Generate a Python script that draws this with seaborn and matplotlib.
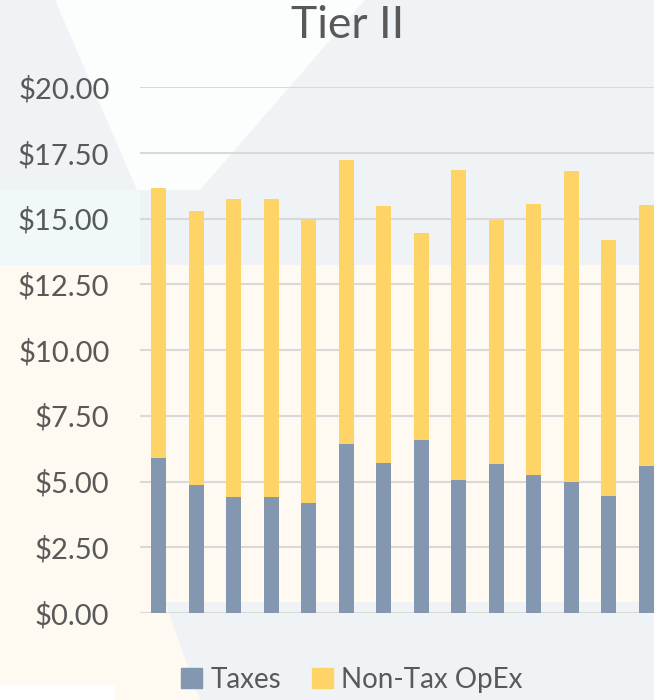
import matplotlib
matplotlib.use("Agg")
import matplotlib.pyplot as plt
from matplotlib.patches import Polygon
from matplotlib.ticker import FuncFormatter
import seaborn as sns
import pandas as pd

# data (one bar per property, no x labels)
properties = [str(i) for i in range(1, 15)]
taxes = [5.88, 4.87, 4.40, 4.41, 4.17, 6.44, 5.72, 6.57, 5.06, 5.68, 5.24, 4.97, 4.45, 5.60]
non_tax = [10.27, 10.42, 11.34, 11.33, 10.80, 10.78, 9.76, 7.89, 11.77, 9.26, 10.32, 11.84, 9.72, 9.91]
y_ticks = [0, 2.5, 5, 7.5, 10, 12.5, 15, 17.5, 20]

TAX_COLOR = "#8497b0"
OPEX_COLOR = "#ffd466"
TEXT_COLOR = "#595959"

df = pd.DataFrame({"property": properties, "Taxes": taxes, "Non-Tax OpEx": non_tax})
df["total"] = df["Taxes"] + df["Non-Tax OpEx"]

sns.set_theme(style="white")
plt.rcParams["font.family"] = ["Lato", "DejaVu Sans"]

W, H = 654, 700
fig = plt.figure(figsize=(W / 100, H / 100), dpi=100)
fig.patch.set_facecolor("#eff3f6")


def px(points):
    # pixel coords (from top-left) -> figure fraction
    return [(x / W, 1 - y / H) for x, y in points]


# decorative background shapes
bg = [
    ([(55, 0), (365, 0), (200, 190), (137, 190)], "#fcfdfd"),
    ([(0, 190), (140, 190), (140, 265), (0, 265)], "#f1f8fa"),
    ([(0, 265), (W, 265), (W, 602), (0, 602)], "#fef9f1"),
    ([(0, 602), (165, 602), (200, H), (0, H)], "#fef9f1"),
    ([(0, 685), (115, 685), (115, H), (0, H)], "#ffffff"),
]
for pts, c in bg:
    fig.add_artist(Polygon(px(pts), closed=True, transform=fig.transFigure,
                           facecolor=c, edgecolor="none", zorder=-5))

ax = fig.add_axes([140 / W, 1 - 613 / H, 525 / W, 526 / H])
ax.patch.set_alpha(0)

sns.barplot(data=df, x="property", y="total", color=OPEX_COLOR, width=0.4,
            linewidth=0, saturation=1, ax=ax)
sns.barplot(data=df, x="property", y="Taxes", color=TAX_COLOR, width=0.4,
            linewidth=0, saturation=1, ax=ax)

ax.set_xlim(-0.5, len(properties) - 0.5)
ax.set_ylim(0, 20)
ax.set_yticks(y_ticks)
ax.yaxis.set_major_formatter(FuncFormatter(lambda v, _: f"${v:,.2f}"))
ax.yaxis.grid(True, color="#d9d9d9", linewidth=1.5)
ax.set_axisbelow(True)
ax.set_xticks([])
ax.set_xlabel("")
ax.set_ylabel("")
ax.tick_params(axis="y", length=0, pad=22, labelsize=21, labelcolor=TEXT_COLOR)
for s in ax.spines.values():
    s.set_visible(False)
ax.axhline(0, color="#d9d9d9", linewidth=2, zorder=0.5)

fig.text(348 / W, 1 - 25 / H, "Tier II", ha="center", va="center",
         fontsize=32, color=TEXT_COLOR)

handles = [plt.Rectangle((0, 0), 1, 1, color=TAX_COLOR),
           plt.Rectangle((0, 0), 1, 1, color=OPEX_COLOR)]
fig.legend(handles, ["Taxes", "Non-Tax OpEx"], loc="center",
           bbox_to_anchor=(352 / W, 1 - 680 / H), ncol=2, frameon=False,
           fontsize=20, labelcolor=TEXT_COLOR, handlelength=0.75,
           handleheight=0.75, handletextpad=0.3, columnspacing=1.1)

fig.savefig("out.png", dpi=100, facecolor=fig.get_facecolor())
